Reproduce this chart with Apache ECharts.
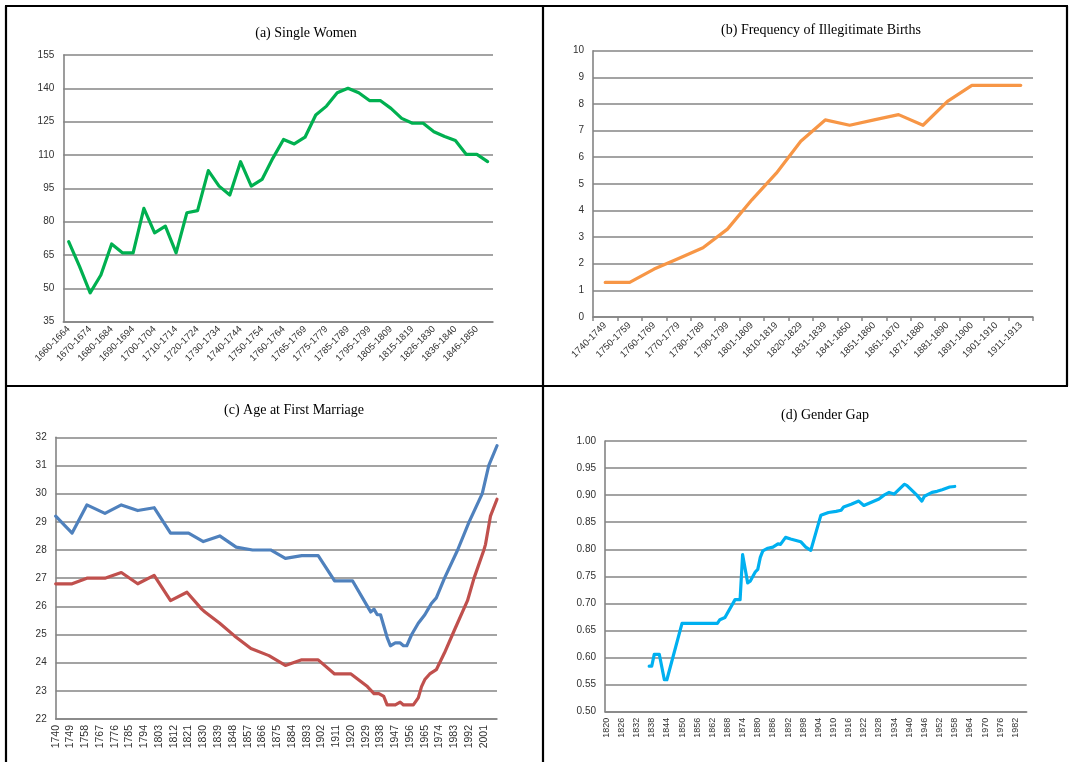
<!DOCTYPE html>
<html><head><meta charset="utf-8">
<script src="https://cdn.jsdelivr.net/npm/echarts@6/dist/echarts.min.js"></script>
<style>html,body{margin:0;padding:0;background:#fff}#c{width:1071px;height:762px}</style>
</head><body><div id="c"></div>
<script>
// (a) Single Women
const singleCats = ['1660-1664','1665-1669','1670-1674','1675-1679','1680-1684','1685-1689','1690-1694','1695-1699','1700-1704','1705-1709','1710-1714','1715-1719','1720-1724','1725-1729','1730-1734','1735-1739','1740-1744','1745-1749','1750-1754','1755-1759','1760-1764','1762-1766','1765-1769','1770-1774','1775-1779','1780-1784','1785-1789','1790-1794','1795-1799','1800-1804','1805-1809','1810-1814','1815-1819','1820-1825','1826-1830','1831-1835','1836-1840','1841-1845','1846-1850','1851-1855'];
const singleVals = [71,60,48,56,70,66,66,86,75,78,66,84,85,103,96,92,107,96,99,108.5,117,115,118,128,132,138,140,138,134.5,134.5,131,126.5,124.3,124.3,120.5,118.3,116.5,110.3,110.3,107];

// (b) Frequency of Illegitimate Births
const illegCats = ['1740-1749','1750-1759','1760-1769','1770-1779','1780-1789','1790-1799','1801-1809','1810-1819','1820-1829','1831-1839','1841-1850','1851-1860','1861-1870','1871-1880','1881-1890','1891-1900','1901-1910','1911-1913'];
const illegVals = [1.3,1.3,1.8,2.2,2.6,3.3,4.4,5.4,6.6,7.4,7.2,7.4,7.6,7.2,8.1,8.7,8.7,8.7];

// (c) Age at First Marriage  [year, age]
const marriageFirstYear = 1740, marriageLastYear = 2009;
const ageBlue = [[1740,29.2],[1750,28.6],[1759,29.6],[1770,29.3],[1780,29.6],[1790,29.4],[1800,29.5],[1810,28.6],[1821,28.6],[1830,28.3],[1840,28.5],[1850,28.1],[1860,28.0],[1871,28.0],[1880,27.7],[1890,27.8],[1900,27.8],[1910,26.9],[1921,26.9],[1931,25.9],[1932,25.8],[1934,25.9],[1936,25.7],[1938,25.7],[1940,25.3],[1942,24.9],[1944,24.6],[1947,24.7],[1950,24.7],[1952,24.6],[1954,24.6],[1957,25.0],[1961,25.4],[1965,25.7],[1967,25.9],[1969,26.1],[1972,26.3],[1977,27.0],[1985,28.0],[1992,29.0],[2000,30.0],[2004,31.0],[2009,31.7]];
const ageRed = [[1740,26.8],[1750,26.8],[1759,27.0],[1770,27.0],[1780,27.2],[1790,26.8],[1800,27.1],[1810,26.2],[1820,26.5],[1829,25.9],[1831,25.8],[1840,25.4],[1849,24.95],[1859,24.5],[1870,24.25],[1880,23.9],[1890,24.1],[1900,24.1],[1910,23.6],[1920,23.6],[1930,23.15],[1934,22.9],[1937,22.9],[1940,22.8],[1942,22.5],[1947,22.5],[1950,22.6],[1952,22.5],[1958,22.5],[1961,22.75],[1963,23.15],[1965,23.4],[1968,23.6],[1972,23.75],[1977,24.35],[1983,25.15],[1991,26.2],[1995,27.0],[2001,28.0],[2002,28.2],[2005,29.2],[2009,29.8]];

// (d) Gender Gap  [year, ratio]
const gapFirstYear = 1820, gapLastYear = 1986;
const gapVals = [[1837,0.584],[1838,0.584],[1839,0.606],[1841,0.606],[1843,0.559],[1844,0.559],[1850,0.663],[1864,0.663],[1865,0.670],[1867,0.674],[1871,0.707],[1873,0.707],[1874,0.790],[1876,0.738],[1877,0.741],[1879,0.758],[1880,0.763],[1881,0.785],[1882,0.797],[1884,0.802],[1886,0.804],[1888,0.810],[1889,0.809],[1891,0.822],[1893,0.819],[1897,0.814],[1899,0.804],[1901,0.798],[1905,0.863],[1908,0.868],[1911,0.870],[1913,0.872],[1914,0.878],[1917,0.883],[1920,0.889],[1922,0.881],[1925,0.887],[1928,0.893],[1930,0.900],[1932,0.905],[1934,0.902],[1938,0.920],[1939,0.918],[1943,0.900],[1945,0.889],[1946,0.898],[1949,0.905],[1951,0.907],[1953,0.910],[1956,0.915],[1958,0.916]];

const titles = ['(a) Single Women','(b) Frequency of Illegitimate Births','(c) Age at First Marriage','(d) Gender Gap'];

function yearRange(a,b){const r=[];for(let y=a;y<=b;y++)r.push(String(y));return r;}
const marriageCats = yearRange(marriageFirstYear, marriageLastYear);
const gapCats = yearRange(gapFirstYear, gapLastYear);
const toIdx = (cats, arr) => arr.map(([y,v]) => [cats.indexOf(String(y)), v]);

const FONT = 'Liberation Sans';
const GRID = '#848484';
const LBL = '#303030';

function yAxis(gi, min, max, interval, fs, fmt){
  return {type:'value', gridIndex:gi, min, max, interval,
    axisLine:{show:true, lineStyle:{color:GRID, width:1.6}},
    axisTick:{show:false},
    splitLine:{show:true, lineStyle:{color:GRID, width:1.6}},
    axisLabel:{color:LBL, fontFamily:FONT, fontSize:fs, margin:9, formatter: fmt}};
}
function xAxis(gi, cats, opts){
  return Object.assign({type:'category', gridIndex:gi, data:cats,
    axisLine:{show:true, lineStyle:{color:GRID, width:1.6}},
    splitLine:{show:false}}, opts);
}
function line(gi, data, color){
  return {type:'line', xAxisIndex:gi, yAxisIndex:gi, data, showSymbol:false, symbol:'none',
    lineStyle:{color, width:3.2, cap:'round', join:'round'}, itemStyle:{color}, animation:false};
}

const titlePos = [[306,33],[821,30],[294,410],[825,415]];
const graphic = titles.map((t,i)=>({type:'text', x:titlePos[i][0], y:titlePos[i][1],
  style:{text:t, fill:'#000', font:'14px "Liberation Serif"', textAlign:'center', textVerticalAlign:'middle'}}));
const B = '#000';
const borders = [[5,6,1068,6],[6,6,6,762],[543,6,543,762],[5,386,1068,386],[1067,6,1067,386]];
borders.forEach(b=>graphic.push({type:'line', shape:{x1:b[0],y1:b[1],x2:b[2],y2:b[3]}, style:{stroke:B, lineWidth:2.2}}));

const chart = echarts.init(document.getElementById('c'), null, {renderer:'canvas'});
chart.setOption({
  animation:false,
  backgroundColor:'#fff',
  graphic,
  grid:[
    {left:63.3, top:55, width:429.7, height:266.7},
    {left:593, top:50.7, width:440, height:266.3},
    {left:55.7, top:437.3, width:441.3, height:281.7},
    {left:605, top:441, width:421.7, height:270.7}
  ],
  xAxis:[
    xAxis(0, singleCats, {boundaryGap:true, axisTick:{show:false},
      axisLabel:{interval:1, rotate:45, color:LBL, fontFamily:FONT, fontSize:9.5, margin:6}}),
    xAxis(1, illegCats, {boundaryGap:true, axisTick:{show:true, length:4, lineStyle:{color:GRID, width:1.5}},
      axisLabel:{interval:0, rotate:45, color:LBL, fontFamily:FONT, fontSize:9.5, margin:7}}),
    xAxis(2, marriageCats, {boundaryGap:false, axisTick:{show:false},
      axisLabel:{interval:8, rotate:90, color:LBL, fontFamily:FONT, fontSize:10.5, margin:6}}),
    xAxis(3, gapCats, {boundaryGap:true, axisTick:{show:false},
      axisLabel:{interval:5, rotate:90, color:LBL, fontFamily:FONT, fontSize:9, margin:6}})
  ],
  yAxis:[
    yAxis(0, 35, 155, 15, 10),
    yAxis(1, 0, 10, 1, 10),
    yAxis(2, 22, 32, 1, 10),
    yAxis(3, 0.5, 1.0, 0.05, 10, v => v.toFixed(2))
  ],
  series:[
    line(0, singleVals, '#00B050'),
    line(1, illegVals, '#F79646'),
    line(2, toIdx(marriageCats, ageBlue), '#4F81BD'),
    line(2, toIdx(marriageCats, ageRed), '#C0504D'),
    line(3, toIdx(gapCats, gapVals), '#00B0F0')
  ]
});
</script>
</body></html>
